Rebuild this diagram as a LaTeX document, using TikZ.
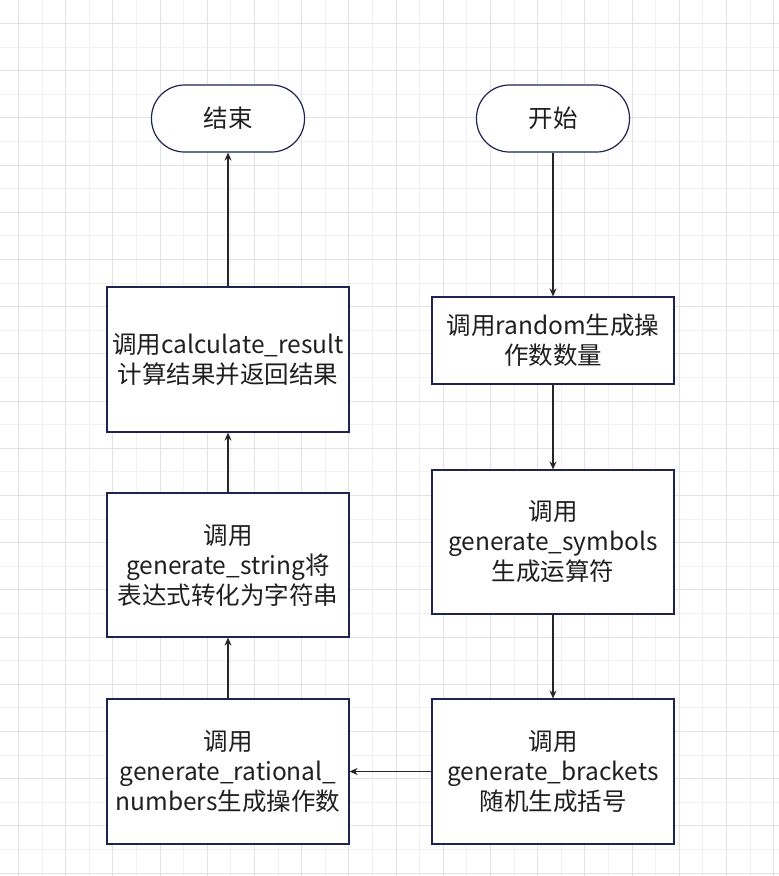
\documentclass[tikz,border=0pt]{standalone}
\usepackage{fontspec}
\setmainfont{Noto Sans CJK SC}
\usetikzlibrary{shapes.geometric, arrows.meta, positioning}

\definecolor{boxline}{HTML}{1E2352}
\definecolor{gridmajor}{HTML}{E2E2E2}
\definecolor{gridminor}{HTML}{F1F1F1}
\definecolor{txtcol}{HTML}{1F1F1F}

\begin{document}
\begin{tikzpicture}[
    x=1pt, y=-1pt,
    termbox/.style={rectangle, rounded corners=33pt, draw=boxline, line width=1.2pt, fill=white, minimum width=153pt, minimum height=67pt, align=center, text=txtcol, font=\fontsize{24.5}{30}\selectfont},
    procbox/.style={rectangle, draw=boxline, line width=1.2pt, fill=white, minimum width=242pt, align=center, text=txtcol, inner sep=1pt, font=\fontsize{24.5}{30}\selectfont},
    arrow/.style={-{Stealth[length=8pt, width=7pt]}, line width=1.1pt, draw=black!85}
]

% background grid
\useasboundingbox (0,0) rectangle (779,876);
\fill[white] (0,0) rectangle (779,876);
\foreach \k in {0,...,16} {
    \draw[gridminor, line width=0.8pt] ({41.9+47.2*\k},0) -- ({41.9+47.2*\k},876);
}
\foreach \k in {0,...,17} {
    \draw[gridminor, line width=0.8pt] (0,{46.9+47.2*\k}) -- (779,{46.9+47.2*\k});
}
\foreach \k in {0,...,16} {
    \draw[gridmajor, line width=0.8pt] ({18.3+47.2*\k},0) -- ({18.3+47.2*\k},876);
}
\foreach \k in {0,...,18} {
    \draw[gridmajor, line width=0.8pt] (0,{23.3+47.2*\k}) -- (779,{23.3+47.2*\k});
}

% right column
\node[termbox] (start) at (553,118.5) {开始};
\node[procbox, minimum height=87pt] (rnd) at (553,340.5) {调用random生成操\\作数数量};
\node[procbox, minimum height=144pt] (sym) at (553,542) {调用\\generate\_symbols\\生成运算符};
\node[procbox, minimum height=145pt] (brk) at (553,771.5) {调用\\generate\_brackets\\随机生成括号};

% left column
\node[procbox, minimum height=145pt] (rat) at (228,771.5) {调用\\generate\_rational\_\\numbers生成操作数};
\node[procbox, minimum height=144pt] (str) at (228,565) {调用\\generate\_string将\\表达式转化为字符串};
\node[procbox, minimum height=145pt] (calc) at (228,359.5) {调用calculate\_result\\计算结果并返回结果};
\node[termbox] (end) at (228,118.5) {结束};

\draw[arrow] (start) -- (rnd);
\draw[arrow] (rnd) -- (sym);
\draw[arrow] (sym) -- (brk);
\draw[arrow] (brk) -- (rat);
\draw[arrow] (rat) -- (str);
\draw[arrow] (str) -- (calc);
\draw[arrow] (calc) -- (end);

\end{tikzpicture}
\end{document}
